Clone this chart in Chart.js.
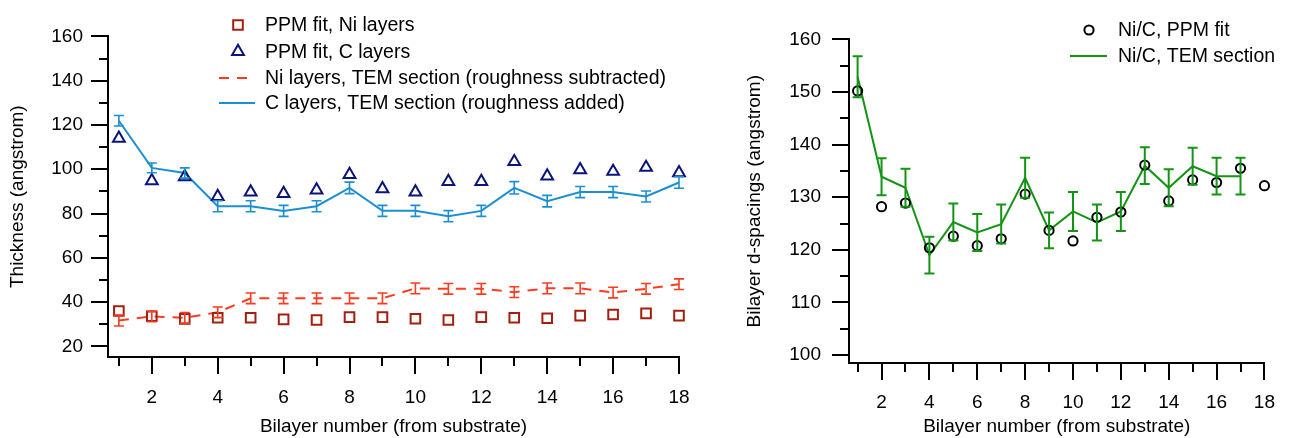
<!DOCTYPE html>
<html><head><meta charset="utf-8">
<script src="https://cdn.jsdelivr.net/npm/chart.js@4"></script>
<style>
html,body{margin:0;padding:0;background:#fff;}
#wrap{position:relative;width:1303px;height:438px;overflow:hidden;background:#fff;}
#c1{position:absolute;left:0;top:0;}
#c2{position:absolute;left:720px;top:0;}
</style></head><body>
<div id="wrap"><canvas id="c1" width="720" height="438"></canvas><canvas id="c2" width="583" height="438"></canvas></div>
<script>
// ---------- data ----------
const bilayer = [1,2,3,4,5,6,7,8,9,10,11,12,13,14,15,16,17,18];
const niPPM = [36.0,33.6,32.4,32.9,32.9,32.2,31.9,33.2,33.2,32.5,31.9,33.2,32.9,32.7,33.9,34.4,34.9,33.9];
const cPPM = [114.0,94.8,96.6,87.7,89.7,89.0,90.6,97.6,91.2,89.7,94.4,94.4,103.4,96.9,99.7,99.0,100.8,98.4];
const niTEM = [31.7,33.5,32.9,35.4,41.7,41.7,41.7,41.7,41.7,46.2,46.0,46.0,44.5,46.2,46.2,44.3,46.0,48.1];
const niTEMErr = [2.5,2.4,2.4,2.4,2.4,2.4,2.4,2.4,2.4,2.4,2.4,2.4,2.4,2.4,2.4,2.4,2.4,2.4];
const cTEM = [121.9,100.6,98.3,83.3,83.3,81.2,83.3,91.6,81.2,81.2,78.8,81.2,91.6,85.6,89.7,89.7,87.7,94.0];
const cTEMErr = [2.4,2.2,2.3,2.5,2.5,2.5,2.5,2.6,2.5,2.5,2.5,2.5,2.8,2.6,2.5,2.5,2.5,2.6];
const dPPM = [150.2,128.2,128.9,120.4,122.6,120.8,122.1,130.6,123.7,121.7,126.2,127.2,136.1,129.3,133.3,132.8,135.5,132.2];
const dTEM = [152.9,133.9,131.8,119.0,125.3,123.3,124.9,133.7,123.7,127.3,125.2,127.3,136.0,131.8,135.9,134.0,134.0,null];
const dTEMErr = [3.9,3.5,3.6,3.5,3.5,3.5,3.7,3.8,3.4,3.7,3.4,3.7,3.5,3.5,3.5,3.5,3.5,null];
const xTicks = [2,4,6,8,10,12,14,16,18];
const xMinorTicks = [1,3,5,7,9,11,13,15,17];
const yTicksLeft = [20,40,60,80,100,120,140,160];
const yMinorLeft = [30,50,70,90,110,130,150];
const yTicksRight = [100,110,120,130,140,150,160];
const yMinorRight = [105,115,125,135,145,155];

const FONT = '"Liberation Sans", Arial, Helvetica, sans-serif';
const pts = (ys) => bilayer.map((x,i)=>({x:x, y:ys[i]}));

// ---------- plugins ----------
const tickPlugin = {
  id: 'igorTicks',
  afterDraw(chart, args, opts) {
    const ctx = chart.ctx, ca = chart.chartArea;
    const xs = chart.scales.x, ys = chart.scales.y;
    ctx.save();
    ctx.strokeStyle = '#000'; ctx.lineWidth = 2; ctx.lineCap = 'butt';
    const drawX = (vals, len) => vals.forEach(v => {
      const px = Math.round(xs.getPixelForValue(v));
      ctx.beginPath(); ctx.moveTo(px, ca.bottom); ctx.lineTo(px, ca.bottom + len); ctx.stroke();
    });
    const drawY = (vals, len) => vals.forEach(v => {
      const py = Math.round(ys.getPixelForValue(v));
      ctx.beginPath(); ctx.moveTo(ca.left, py); ctx.lineTo(ca.left - len, py); ctx.stroke();
    });
    drawX(opts.xMajor, 17); drawX(opts.xMinor, 9);
    drawY(opts.yMajor, 17); drawY(opts.yMinor, 9);
    ctx.restore();
  }
};

const errPlugin = {
  id: 'errBars',
  afterDatasetsDraw(chart) {
    const ctx = chart.ctx, xs = chart.scales.x, ys = chart.scales.y;
    chart.data.datasets.forEach(ds => {
      if (!ds.errors) return;
      ctx.save();
      ctx.strokeStyle = ds.borderColor; ctx.lineWidth = ds.errWidth || 2; ctx.setLineDash([]);
      ds.data.forEach((p, i) => {
        const e = ds.errors[i];
        if (p.y == null || e == null) return;
        const px = xs.getPixelForValue(p.x);
        const y1 = ys.getPixelForValue(p.y - e), y2 = ys.getPixelForValue(p.y + e);
        ctx.beginPath();
        ctx.moveTo(px, y1); ctx.lineTo(px, y2);
        ctx.moveTo(px - 5, y1); ctx.lineTo(px + 5, y1);
        ctx.moveTo(px - 5, y2); ctx.lineTo(px + 5, y2);
        ctx.stroke();
      });
      ctx.restore();
    });
  }
};

function markerLegend(ctx, ds, x, y) {
  ctx.save();
  ctx.strokeStyle = ds.pointBorderColor;
  ctx.fillStyle = 'rgba(0,0,0,0)';
  ctx.lineWidth = ds.pointBorderWidth;
  Chart.helpers.drawPoint(ctx, {pointStyle: ds.pointStyle, radius: ds.pointRadius, borderWidth: ds.pointBorderWidth, rotation: 0}, x, y);
  ctx.restore();
}
const legendPlugin = {
  id: 'placedLegend',
  afterDraw(chart, args, opts) {
    const ctx = chart.ctx;
    ctx.save();
    ctx.font = opts.fontSize + 'px ' + FONT;
    ctx.textBaseline = 'middle';
    opts.items.forEach((it, k) => {
      const ds = chart.data.datasets[it.ds];
      const y = opts.rows[k];
      if (ds.showLine === false) {
        markerLegend(ctx, ds, opts.markerX, y);
      } else {
        ctx.save();
        ctx.strokeStyle = ds.borderColor; ctx.lineWidth = ds.borderWidth;
        ctx.setLineDash(ds.borderDash || []);
        ctx.beginPath(); ctx.moveTo(opts.lineFrom, y); ctx.lineTo(it.lineTo || opts.lineTo, y); ctx.stroke();
        ctx.restore();
      }
      ctx.fillStyle = '#000';
      ctx.fillText(ds.label, opts.textX, y + 1);
    });
    ctx.restore();
  }
};

function axisCommon(extra) {
  return Object.assign({
    type: 'linear',
    grid: { display: false, drawTicks: false },
    border: { display: true, color: '#000', width: 2 },
  }, extra);
}

// ---------- left chart ----------
new Chart(document.getElementById('c1'), {
  type: 'line',
  data: {
    datasets: [
      { label: 'PPM fit, Ni layers', data: pts(niPPM), showLine: false, pointStyle: 'rect', pointRadius: 6.8,
        pointBorderColor: '#A3200F', pointBackgroundColor: 'rgba(0,0,0,0)', pointBorderWidth: 2, order: 0, clip: false },
      { label: 'PPM fit, C layers', data: pts(cPPM), showLine: false, pointStyle: 'triangle', pointRadius: 6.8,
        pointBorderColor: '#0B1478', pointBackgroundColor: 'rgba(0,0,0,0)', pointBorderWidth: 2, order: 1, clip: false },
      { label: 'Ni layers, TEM section (roughness subtracted)', data: pts(niTEM), borderColor: '#FF3B1F', borderWidth: 2,
        borderDash: [10, 8], pointRadius: 0, tension: 0, errors: niTEMErr, errWidth: 1.6, order: 2, clip: false },
      { label: 'C layers, TEM section (roughness added)', data: pts(cTEM), borderColor: '#1C8FD3', borderWidth: 2,
        pointRadius: 0, tension: 0, errors: cTEMErr, errWidth: 1.6, order: 3, clip: false }
    ]
  },
  options: {
    responsive: false, animation: false,
    layout: { padding: { left: 0, right: 41, top: 18, bottom: 0 } },
    plugins: {
      legend: { display: false }, tooltip: { enabled: false },
      igorTicks: { xMajor: xTicks, xMinor: xMinorTicks, yMajor: yTicksLeft, yMinor: yMinorLeft },
      placedLegend: { fontSize: 19.5, markerX: 238, textX: 265, lineFrom: 219, lineTo: 255,
        rows: [25, 51.5, 78, 103], items: [{ds:0},{ds:1},{ds:2, lineTo: 247},{ds:3}] }
    },
    scales: {
      x: axisCommon({
        min: 0.67, max: 18,
        afterBuildTicks: s => { s.ticks = xTicks.map(v => ({ value: v })); },
        afterFit: s => { s.height = 81; },
        ticks: { color: '#000', font: { family: FONT, size: 19 }, padding: 29, maxRotation: 0, autoSkip: false },
        title: { display: true, text: 'Bilayer number (from substrate)', color: '#000', font: { family: FONT, size: 19 }, padding: { top: 0, bottom: 0 } }
      }),
      y: axisCommon({
        min: 15.2, max: 160,
        afterBuildTicks: s => { s.ticks = yTicksLeft.map(v => ({ value: v })); },
        afterFit: s => { s.width = 108; },
        ticks: { color: '#000', font: { family: FONT, size: 19 }, padding: 25 },
        title: { display: true, text: 'Thickness (angstrom)', color: '#000', font: { family: FONT, size: 19 }, padding: { top: 6, bottom: 0 } }
      })
    }
  },
  plugins: [tickPlugin, errPlugin, legendPlugin]
});

// ---------- right chart ----------
new Chart(document.getElementById('c2'), {
  type: 'line',
  data: {
    datasets: [
      { label: 'Ni/C, PPM fit', data: pts(dPPM), showLine: false, pointStyle: 'circle', pointRadius: 4.6,
        pointBorderColor: '#000', pointBackgroundColor: 'rgba(0,0,0,0)', pointBorderWidth: 2, order: 0, clip: false },
      { label: 'Ni/C, TEM section', data: pts(dTEM), borderColor: '#149414', borderWidth: 2,
        pointRadius: 0, tension: 0, errors: dTEMErr, errWidth: 2, order: 1, clip: false }
    ]
  },
  options: {
    responsive: false, animation: false,
    layout: { padding: { left: 0, right: 21, top: 18, bottom: 0 } },
    plugins: {
      legend: { display: false }, tooltip: { enabled: false },
      igorTicks: { xMajor: xTicks, xMinor: xMinorTicks, yMajor: yTicksRight, yMinor: yMinorRight },
      placedLegend: { fontSize: 19.5, markerX: 369, textX: 398, lineFrom: 350, lineTo: 387,
        rows: [30, 56], items: [{ds:0},{ds:1}] }
    },
    scales: {
      x: axisCommon({
        min: 0.64, max: 18,
        afterBuildTicks: s => { s.ticks = xTicks.map(v => ({ value: v })); },
        afterFit: s => { s.height = 75; },
        ticks: { color: '#000', font: { family: FONT, size: 19 }, padding: 28, maxRotation: 0, autoSkip: false },
        title: { display: true, text: 'Bilayer number (from substrate)', color: '#000', font: { family: FONT, size: 19 }, padding: { top: 0, bottom: 0 } }
      }),
      y: axisCommon({
        min: 98.5, max: 160,
        afterBuildTicks: s => { s.ticks = yTicksRight.map(v => ({ value: v })); },
        afterFit: s => { s.width = 129; },
        ticks: { color: '#000', font: { family: FONT, size: 19 }, padding: 28 },
        title: { display: true, text: 'Bilayer d-spacings (angstrom)', color: '#000', font: { family: FONT, size: 19 }, padding: { top: 23, bottom: 0 } }
      })
    }
  },
  plugins: [tickPlugin, errPlugin, legendPlugin]
});
</script>
</body></html>
